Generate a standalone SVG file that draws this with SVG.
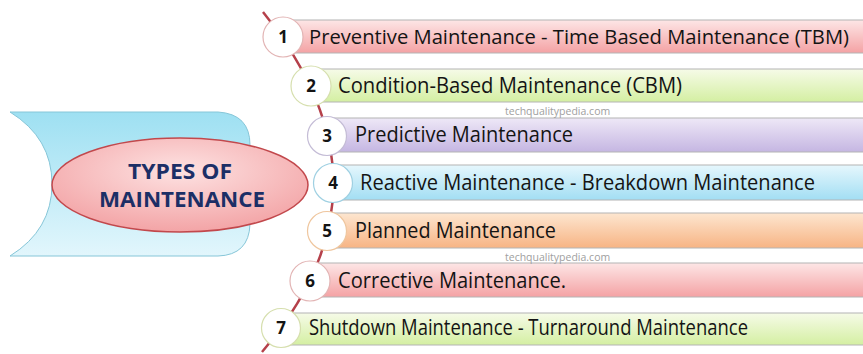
<svg xmlns="http://www.w3.org/2000/svg" width="863" height="354" viewBox="0 0 863 354">
  <style>
    .lbl { font-family: "Open Sans", "Noto Sans", "Liberation Sans", sans-serif; font-size: 21px; fill: #141414; }
    .lbl.long { font-size: 19.5px; }
    .num { font-family: "Open Sans", "Noto Sans", "Liberation Sans", sans-serif; font-size: 17px; font-weight: bold; fill: #141414; text-anchor: middle; }
    .wm { font-family: "Open Sans", "Liberation Sans", sans-serif; font-size: 10.5px; fill: #a0a0a0; }
    .title { font-family: "Open Sans", "Liberation Sans", sans-serif; font-size: 21.5px; font-weight: bold; fill: #1c2f66; text-anchor: middle; }
    .bar { stroke: #b4b4b4; stroke-width: 1; }
    .dot { fill: #ffffff; stroke-width: 1.2; }
  </style>
  <defs>
    <linearGradient id="gRed" x1="0" y1="0" x2="0" y2="1">
      <stop offset="0" stop-color="#fde6e6"/>
      <stop offset="1" stop-color="#f4a2a4"/>
    </linearGradient>
    <linearGradient id="gGreen" x1="0" y1="0" x2="0" y2="1">
      <stop offset="0" stop-color="#f6fbe8"/>
      <stop offset="1" stop-color="#d4efa2"/>
    </linearGradient>
    <linearGradient id="gPurple" x1="0" y1="0" x2="0" y2="1">
      <stop offset="0" stop-color="#eee8f7"/>
      <stop offset="1" stop-color="#c5b6e2"/>
    </linearGradient>
    <linearGradient id="gBlue" x1="0" y1="0" x2="0" y2="1">
      <stop offset="0" stop-color="#e6f7fd"/>
      <stop offset="1" stop-color="#a2def3"/>
    </linearGradient>
    <linearGradient id="gOrange" x1="0" y1="0" x2="0" y2="1">
      <stop offset="0" stop-color="#fde6d0"/>
      <stop offset="1" stop-color="#f7b484"/>
    </linearGradient>
    <linearGradient id="gBand" x1="0" y1="0" x2="0" y2="1">
      <stop offset="0" stop-color="#9ee0f2"/>
      <stop offset="1" stop-color="#e2f6fc"/>
    </linearGradient>
    <radialGradient id="gHub" cx="0.5" cy="0.35" r="0.65">
      <stop offset="0" stop-color="#fde2e2"/>
      <stop offset="1" stop-color="#f3a4a6"/>
    </radialGradient>
  </defs>

  <!-- hub: curved band with the title ellipse -->
  <g id="hub">
    <path d="M10,112 L218,112 Q250,114 250,145 L250,224 Q249,255 218,256 L10,256 Q52,230 52,184 Q52,138 10,112 Z" fill="url(#gBand)" stroke="#86c6d8" stroke-width="1"/>
    <ellipse cx="180" cy="185" rx="128" ry="47" fill="url(#gHub)" stroke="#c2484c" stroke-width="1.5"/>
    <text class="title" x="180" y="179" textLength="104" lengthAdjust="spacingAndGlyphs">TYPES OF</text>
    <text class="title" x="182" y="207" textLength="166" lengthAdjust="spacingAndGlyphs">MAINTENANCE</text>
  </g>

  <!-- bars -->
  <g id="bar1">
    <rect class="bar" x="283" y="20" width="600" height="33" fill="url(#gRed)"/>
  </g>
  <g id="bar2">
    <rect class="bar" x="310" y="69" width="600" height="33" fill="url(#gGreen)"/>
  </g>
  <g id="bar3">
    <rect class="bar" x="327" y="118" width="600" height="34" fill="url(#gPurple)"/>
  </g>
  <g id="bar4">
    <rect class="bar" x="333" y="165" width="600" height="35" fill="url(#gBlue)"/>
  </g>
  <g id="bar5">
    <rect class="bar" x="327" y="213" width="600" height="35" fill="url(#gOrange)"/>
  </g>
  <g id="bar6">
    <rect class="bar" x="310" y="263" width="600" height="34" fill="url(#gRed)"/>
  </g>
  <g id="bar7">
    <rect class="bar" x="281" y="313" width="600" height="32" fill="url(#gGreen)"/>
  </g>

  <!-- spine connecting the numbered markers -->
  <g id="connectors">
    <path d="M263,12 C357,130 357,240 262,352" fill="none" stroke="#b5404a" stroke-width="2.5"/>
  </g>

  <!-- numbered markers and labels -->
  <g id="item1">
    <circle class="dot" cx="283" cy="37" r="20" stroke="#e2b4b4"/>
    <text class="num" x="283" y="43">1</text>
    <text class="lbl long" x="309" y="44" textLength="540" lengthAdjust="spacingAndGlyphs">Preventive Maintenance - Time Based Maintenance (TBM)</text>
  </g>
  <g id="item2">
    <circle class="dot" cx="311" cy="86" r="20" stroke="#d6dfae"/>
    <text class="num" x="311" y="92">2</text>
    <text class="lbl" x="338" y="93" textLength="344" lengthAdjust="spacingAndGlyphs">Condition-Based Maintenance (CBM)</text>
  </g>
  <g id="item3">
    <circle class="dot" cx="327" cy="136" r="19.5" stroke="#c4bcd6"/>
    <text class="num" x="327" y="142">3</text>
    <text class="lbl" x="355" y="142" textLength="218" lengthAdjust="spacingAndGlyphs">Predictive Maintenance</text>
  </g>
  <g id="item4">
    <circle class="dot" cx="333" cy="183" r="19.5" stroke="#9fd0e2"/>
    <text class="num" x="333" y="189">4</text>
    <text class="lbl" x="360" y="190" textLength="455" lengthAdjust="spacingAndGlyphs">Reactive Maintenance - Breakdown Maintenance</text>
  </g>
  <g id="item5">
    <circle class="dot" cx="327" cy="231" r="19.5" stroke="#efc69e"/>
    <text class="num" x="327" y="237">5</text>
    <text class="lbl" x="355" y="238" textLength="201" lengthAdjust="spacingAndGlyphs">Planned Maintenance</text>
  </g>
  <g id="item6">
    <circle class="dot" cx="310" cy="281" r="20" stroke="#e2b4b4"/>
    <text class="num" x="310" y="287">6</text>
    <text class="lbl" x="338" y="288" textLength="228" lengthAdjust="spacingAndGlyphs">Corrective Maintenance.</text>
  </g>
  <g id="item7">
    <circle class="dot" cx="281" cy="328" r="19.5" stroke="#d6dfae"/>
    <text class="num" x="281" y="334">7</text>
    <text class="lbl" x="309" y="335" textLength="439" lengthAdjust="spacingAndGlyphs">Shutdown Maintenance - Turnaround Maintenance</text>
  </g>

  <!-- site marks -->
  <text class="wm" x="505" y="115">techqualitypedia.com</text>
  <text class="wm" x="505" y="261">techqualitypedia.com</text>
</svg>
